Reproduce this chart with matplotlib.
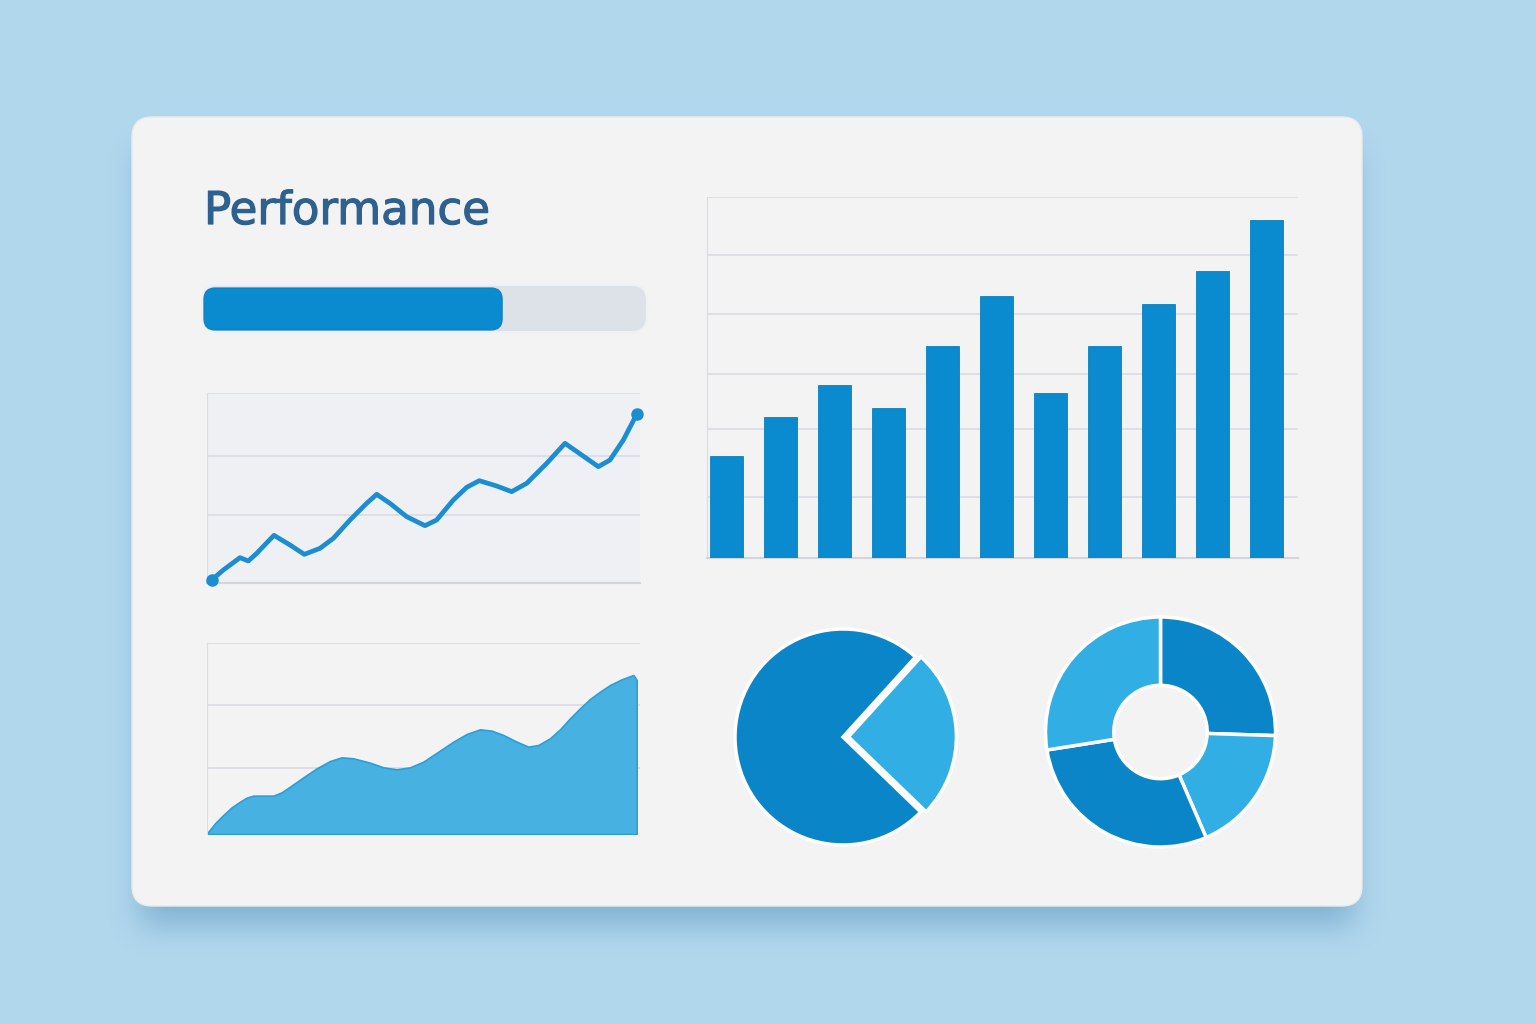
import numpy as np
import matplotlib.pyplot as plt
import matplotlib.patheffects as pe
from matplotlib.colors import to_rgb
from matplotlib.patches import FancyBboxPatch

# ---- data ----
titulo = "Performance"
progresso = 0.67

barras = [34, 47, 57.5, 50, 70.5, 87, 55, 70.5, 84.5, 95.5, 112.5]
barras_grid = [20.3, 42.9, 61.2, 81.1, 100.7, 120]

linha_x = [1.08, 3.77, 7.62, 9.55, 11.47, 15.47, 19.17, 22.48, 26.10, 29.18, 33.03,
           36.87, 39.18, 42.26, 46.11, 50.35, 53.04, 56.89, 59.97, 62.89, 66.90,
           70.36, 73.83, 78.45, 82.68, 86.53, 90.38, 93.07, 96.15, 99.23]
linha_y = [1.58, 6.84, 13.33, 11.58, 15.61, 25.09, 20.0, 15.09, 18.25, 23.51, 33.16,
           41.93, 46.67, 41.93, 34.91, 30.18, 33.16, 43.68, 50.35, 53.86, 51.05,
           48.07, 52.46, 62.98, 73.51, 67.37, 61.23, 64.74, 75.26, 88.77]
linha_grid = [36, 67, 100]

area_x = [0.31, 1.85, 3.77, 5.70, 7.62, 9.16, 10.70, 13.01, 15.32, 17.24, 19.17,
          22.25, 25.33, 28.41, 31.10, 33.80, 37.64, 40.72, 43.80, 46.88, 49.96,
          53.43, 56.89, 59.97, 63.05, 65.74, 68.44, 71.52, 74.21, 76.52, 79.21,
          81.52, 83.83, 86.14, 88.45, 90.76, 93.07, 95.77, 98.46, 99.23]
area_y = [1.22, 5.58, 9.95, 13.96, 16.93, 19.02, 20.07, 20.07, 20.07, 21.82, 24.78,
          29.67, 34.38, 38.22, 40.14, 39.62, 37.35, 34.90, 33.86, 34.90, 37.87,
          43.11, 48.34, 52.36, 54.80, 54.10, 51.83, 48.34, 45.72, 46.60, 50.09,
          54.80, 60.56, 65.79, 70.68, 74.52, 78.01, 80.98, 83.25, 80.6]
area_grid = [34.7, 67.5, 100]

pizza = [25.5, 74.5]
rosca = [25.5, 18, 29, 27.5]

# ---- colours ----
fundo = '#b1d7ed'
cartao = '#f3f3f4'
azul = '#0b8bcf'
azul_escuro = '#0a85c7'
azul_claro = '#31afe4'
cor_area = '#47b1e2'
cor_grid = '#d9dce3'
cor_titulo = '#2f618e'
cor_sombra = '#3f7fae'

W, H = 1536, 1024
fig = plt.figure(figsize=(W / 100, H / 100), dpi=100)
fig.patch.set_facecolor(fundo)


def eixo(x0, y0, x1, y1):
    # pixel box -> figure axes
    return fig.add_axes([x0 / W, 1 - y1 / H, (x1 - x0) / W, (y1 - y0) / H])


def borrar(a, r):
    # box blur, horizontal then vertical
    c = np.cumsum(np.pad(a, ((0, 0), (r + 1, r)), mode='edge'), axis=1)
    a = (c[:, 2 * r + 1:] - c[:, :-2 * r - 1]) / (2 * r + 1)
    c = np.cumsum(np.pad(a, ((r + 1, r), (0, 0)), mode='edge'), axis=0)
    return (c[2 * r + 1:, :] - c[:-2 * r - 1, :]) / (2 * r + 1)


# background layer in pixel coordinates
ax_bg = fig.add_axes([0, 0, 1, 1])
ax_bg.set_xlim(0, W)
ax_bg.set_ylim(H, 0)
ax_bg.axis('off')

# soft shadow under the card
mascara = np.zeros((H, W))
mascara[150:925, 140:1354] = 1.0
for _ in range(3):
    mascara = borrar(mascara, 14)
sombra = np.zeros((H, W, 4))
sombra[..., :3] = to_rgb(cor_sombra)
sombra[..., 3] = mascara * 0.42
ax_bg.imshow(sombra, extent=(0, W, H, 0), interpolation='bilinear', zorder=0)
ax_bg.set_xlim(0, W)
ax_bg.set_ylim(H, 0)

ax_bg.add_patch(FancyBboxPatch((132, 117), 1230, 789,
                               boxstyle="round,pad=0,rounding_size=20",
                               fc=cartao, ec='#e9eaec', lw=1, zorder=1))

ax_bg.text(204, 224, titulo, fontsize=32.5, color=cor_titulo, family=['DejaVu Sans'],
           va='baseline', ha='left', zorder=2,
           path_effects=[pe.withStroke(linewidth=0.9, foreground=cor_titulo)])

# progress bar
ax_bg.add_patch(FancyBboxPatch((202, 285), 445, 47, boxstyle="round,pad=0,rounding_size=16",
                               fc='#dde1e8', ec='#eef0f3', lw=1.5, zorder=2))
ax_bg.add_patch(FancyBboxPatch((204, 288), 445 * progresso, 42,
                               boxstyle="round,pad=0,rounding_size=11",
                               fc=azul, ec='#0a7fbf', lw=0.8, zorder=3))

# ---- bar chart ----
ax1 = eixo(707, 197, 1298, 558)
pos = list(range(len(barras)))
ax1.bar(pos, barras, width=0.61, color=azul, edgecolor='#0a7fbf', linewidth=0.6, zorder=3)
ax1.set_xlim(-0.36, 10.58)
ax1.set_ylim(0, 120)
ax1.set_yticks(barras_grid)
ax1.grid(axis='y', color=cor_grid, lw=1.2, zorder=0)
ax1.set_axisbelow(True)
ax1.tick_params(length=0, labelleft=False, labelbottom=False)
ax1.set_xticks([])
for lado in ['top', 'right']:
    ax1.spines[lado].set_visible(False)
ax1.spines['left'].set_color(cor_grid)
ax1.spines['bottom'].set_color('#d2d5dc')
ax1.spines['bottom'].set_linewidth(1.5)
ax1.patch.set_alpha(0)

# ---- line chart ----
ax2 = eixo(207, 393, 640, 583)
ax2.set_facecolor('#eff0f3')
ax2.plot(linha_x, linha_y, color='#1a8ed1', lw=3.4, solid_joinstyle='round',
         solid_capstyle='round', zorder=3)
ax2.plot([linha_x[0], linha_x[-1]], [linha_y[0], linha_y[-1]], 'o', color='#1a8ed1',
         ms=8, zorder=4, clip_on=False)
ax2.set_xlim(0, 100)
ax2.set_ylim(0, 100)
ax2.set_yticks(linha_grid)
ax2.set_xticks([])
ax2.grid(axis='y', color=cor_grid, lw=1.2)
ax2.tick_params(length=0, labelleft=False)
for lado in ['top', 'right']:
    ax2.spines[lado].set_visible(False)
ax2.spines['left'].set_color(cor_grid)
ax2.spines['bottom'].set_color('#d2d5dc')
ax2.spines['bottom'].set_linewidth(1.5)

# ---- area chart ----
ax3 = eixo(207, 643, 640, 834)
ax3.fill_between(area_x, area_y, 0, color=cor_area, edgecolor='#2b9fd8', lw=1.2,
                 joinstyle='round', zorder=3)
ax3.set_xlim(0, 100)
ax3.set_ylim(0, 100)
ax3.set_yticks(area_grid)
ax3.set_xticks([])
ax3.grid(axis='y', color=cor_grid, lw=1.2)
ax3.tick_params(length=0, labelleft=False)
for lado in ['top', 'right', 'bottom']:
    ax3.spines[lado].set_visible(False)
ax3.spines['left'].set_color(cor_grid)
ax3.patch.set_alpha(0)

# ---- pie ----
r_pie = 108
ax4 = eixo(843 - r_pie * 1.1, 737 - r_pie * 1.1, 843 + r_pie * 1.1, 737 + r_pie * 1.1)
ax4.pie(pizza, colors=[azul_claro, azul_escuro], startangle=-44, explode=[0.05, 0],
        wedgeprops=dict(edgecolor='white', linewidth=2.5))
ax4.set_xlim(-1.1, 1.1)
ax4.set_ylim(-1.1, 1.1)
ax4.set_aspect('equal')
ax4.axis('off')

# ---- donut ----
r_don = 115
ax5 = eixo(1160.5 - r_don * 1.1, 732 - r_don * 1.1, 1160.5 + r_don * 1.1, 732 + r_don * 1.1)
ax5.pie(rosca, colors=[azul_escuro, azul_claro, azul_escuro, azul_claro], startangle=90,
        counterclock=False, wedgeprops=dict(width=0.594, edgecolor='white', linewidth=2.5))
ax5.set_xlim(-1.1, 1.1)
ax5.set_ylim(-1.1, 1.1)
ax5.set_aspect('equal')
ax5.axis('off')

fig.savefig('out.png', dpi=100, facecolor=fig.get_facecolor())
